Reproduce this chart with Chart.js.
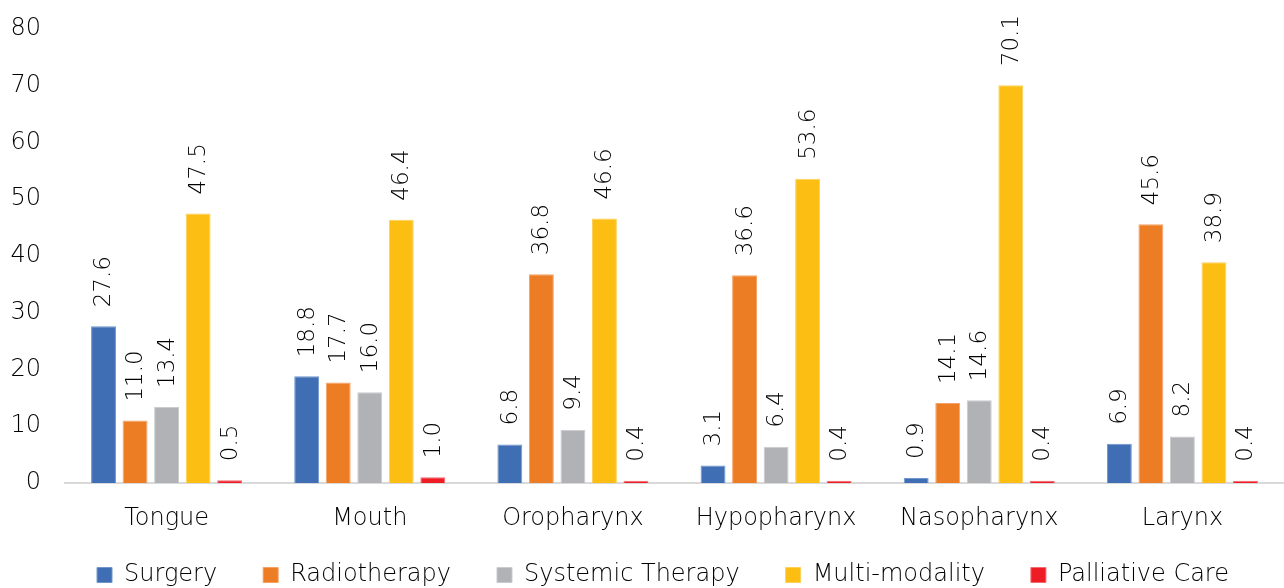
<!DOCTYPE html>
<html>
<head>
<meta charset="utf-8">
<script src="https://cdn.jsdelivr.net/npm/chart.js@4"></script>
<style>
  html, body { margin: 0; padding: 0; background: #ffffff; }
  #wrap { width: 1284px; height: 588px; position: relative; }
</style>
</head>
<body>
<div id="wrap"><canvas id="chart"></canvas></div>
<script>
// Head and neck cancer sites
const categories = ['Tongue', 'Mouth', 'Oropharynx', 'Hypopharynx', 'Nasopharynx', 'Larynx'];

// Share of patients (%) by treatment modality
const surgery       = [27.6, 18.8, 6.8, 3.1, 0.9, 6.9];
const radiotherapy  = [11.0, 17.7, 36.8, 36.6, 14.1, 45.6];
const systemic      = [13.4, 16.0, 9.4, 6.4, 14.6, 8.2];
const multiModality = [47.5, 46.4, 46.6, 53.6, 70.1, 38.9];
const palliative    = [0.5, 1.0, 0.4, 0.4, 0.4, 0.4];

const seriesNames = ['Surgery', 'Radiotherapy', 'Systemic Therapy', 'Multi-modality', 'Palliative Care'];
const yTicks = [0, 10, 20, 30, 40, 50, 60, 70, 80];

const fills   = ['#3F6EB5', '#ED7D25', '#B1B2B6', '#FDBE13', '#EE1D25'];
const borders = ['#7196CC', '#F4A266', '#CACBCE', '#FDD05A', '#F36A70'];

const FONT = '"DejaVu Sans", "Liberation Sans", sans-serif';
const WEIGHT = 300;

// Vertical value labels above each bar
const barValueLabels = {
  id: 'barValueLabels',
  afterDatasetsDraw(chart) {
    const ctx = chart.ctx;
    ctx.save();
    ctx.fillStyle = '#000000';
    ctx.font = WEIGHT + ' 23px ' + FONT;
    ctx.textAlign = 'left';
    ctx.textBaseline = 'middle';
    chart.data.datasets.forEach((ds, di) => {
      const meta = chart.getDatasetMeta(di);
      meta.data.forEach((bar, i) => {
        const v = ds.data[i];
        ctx.save();
        ctx.translate(bar.x, bar.y - 19);
        ctx.rotate(-Math.PI / 2);
        ctx.fillText(v.toFixed(1), 0, 1);
        ctx.restore();
      });
    });
    ctx.restore();
  }
};

// Nudge the legend row up into the space below the category labels
const legendNudge = {
  id: 'legendNudge',
  afterLayout(chart) {
    const lg = chart.legend;
    if (!lg) return;
    const dy = -17, dx = 21;
    lg.top += dy; lg.bottom += dy;
    lg.left += dx; lg.right += dx;
  }
};

const seriesData = [surgery, radiotherapy, systemic, multiModality, palliative];

new Chart(document.getElementById('chart'), {
  type: 'bar',
  data: {
    labels: categories,
    datasets: seriesData.map((d, k) => ({
      label: seriesNames[k],
      data: d,
      backgroundColor: fills[k],
      borderColor: borders[k],
      borderWidth: 1,
      categoryPercentage: 0.776,
      barPercentage: 0.79
    }))
  },
  options: {
    responsive: true,
    maintainAspectRatio: false,
    animation: false,
    layout: { padding: { top: 29, right: 0, bottom: -26, left: 0 } },
    scales: {
      x: {
        grid: { display: false, drawTicks: false },
        border: { display: true, color: '#D9D9D9', width: 2 },
        ticks: { color: '#000000', font: { family: FONT, size: 24, weight: WEIGHT }, padding: 21 },
        afterFit(scale) { scale.height = 51; }
      },
      y: {
        min: 0,
        max: 80,
        grid: { display: false, drawTicks: false },
        border: { display: false },
        afterBuildTicks(scale) { scale.ticks = yTicks.map(v => ({ value: v })); },
        ticks: { color: '#000000', font: { family: FONT, size: 24, weight: WEIGHT }, padding: 24 },
        afterFit(scale) {
          scale.width = 65;
          // only half a label height is needed above and below the axis
          scale.paddingTop = 14;
          scale.paddingBottom = 14;
        }
      }
    },
    plugins: {
      legend: {
        position: 'bottom',
        fullSize: true,
        labels: {
          color: '#000000',
          font: { family: FONT, size: 24, weight: WEIGHT },
          boxWidth: 15,
          boxHeight: 15,
          padding: 46
        }
      },
      tooltip: { enabled: false }
    }
  },
  plugins: [barValueLabels, legendNudge]
});
</script>
</body>
</html>
